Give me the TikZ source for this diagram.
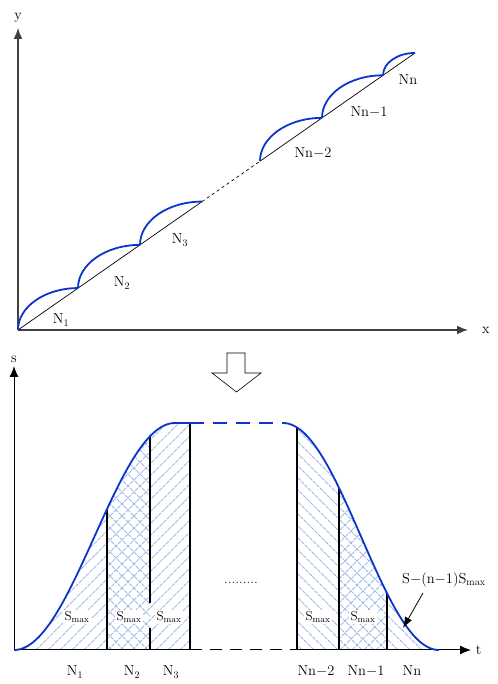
\documentclass[tikz,border=0pt]{standalone}
\usetikzlibrary{arrows.meta}
\definecolor{curveblue}{RGB}{12,52,204}
\definecolor{hatchblue}{RGB}{160,186,232}
\newcommand{\upy}[1]{34+113.5*(1-cos((#1-14)/161*180))}
\newcommand{\downy}[1]{261-113.5*(1-cos((#1-283)/156*180))}

\begin{document}
\begin{tikzpicture}[x=1pt, y=1pt, >={Latex[length=11pt,width=9pt]},
  font=\fontsize{14.5}{17}\selectfont,
  axis/.style={line width=1.6pt, black!75, ->},
  axisb/.style={line width=1pt, black, ->},
  arcb/.style={curveblue, line width=1.8pt},
  bar/.style={line width=1.1pt, black},
  hline/.style={hatchblue, line width=0.8pt, dash pattern=on 4pt off 1pt},
  smaxlab/.style={fill=white, inner sep=2pt, font=\fontsize{13}{15}\selectfont}]

\useasboundingbox (0,0) rectangle (497,684);

% Top panel: axes
\coordinate (O1) at (18,354);
\draw[axis] (O1) -- (18,656) node[above=1pt, black] (ylab) {y};
\draw[axis] (O1) -- (468,354) node[right=10pt, black] (xlab) {x};

% Points on the line
\coordinate (p1) at (78,395.9);
\coordinate (p2) at (140,439.1);
\coordinate (p3) at (202,482.4);
\coordinate (q0) at (260,522.8);
\coordinate (q1) at (322,566.1);
\coordinate (q2) at (383,608.7);
\coordinate (q3) at (415,631);

\draw[line width=0.7pt] (O1) -- (p3);
\draw[line width=0.7pt, dashed] (p3) -- (q0);
\draw[line width=0.7pt] (q0) -- (q3);

% Arcs
\draw[arcb] (O1) arc[start angle=180, end angle=90, x radius=60, y radius=41.9];
\draw[arcb] (p1) arc[start angle=180, end angle=90, x radius=62, y radius=43.2];
\draw[arcb] (p2) arc[start angle=180, end angle=90, x radius=62, y radius=43.3];
\draw[arcb] (q0) arc[start angle=180, end angle=90, x radius=62, y radius=43.3];
\draw[arcb] (q1) arc[start angle=180, end angle=90, x radius=61, y radius=42.6];
\draw[arcb] (q2) arc[start angle=180, end angle=90, x radius=32, y radius=22.3];

% Labels
\node (n1) at (61,364) {N$_1$};
\node (n2) at (122,401) {N$_2$};
\node (n3) at (180,444) {N$_3$};
\node (nn2) at (313,531) {Nn$-$2};
\node (nn1) at (369,572) {Nn$-$1};
\node (nn) at (408,604) {Nn};

% Down arrow
\draw[line width=0.6pt] (227,331) -- (245,331) -- (245,311) -- (261,311) -- (236.5,292)
  -- (212,311) -- (227,311) -- cycle;

% Bottom panel: hatching
\begin{scope}
  \clip (14,34) -- plot[domain=14:175, samples=60] (\x,{\upy{\x}}) -- (190,261) -- (190,34) -- cycle;
  \foreach \k in {-300,-288,...,200} \draw[hline] (\k,34) -- ++(240,240);
  \clip (107,34) rectangle (150,300);
  \foreach \k in {100,112,...,400} \draw[hline] (\k,34) -- ++(-240,240);
\end{scope}
\begin{scope}
  \clip (297,34) -- plot[domain=297:439, samples=60] (\x,{\downy{\x}}) -- cycle;
  \foreach \k in {290,302,...,700} \draw[hline] (\k,34) -- ++(-240,240);
  \clip (339,34) rectangle (387,300);
  \foreach \k in {100,112,...,400} \draw[hline] (\k,34) -- ++(240,240);
\end{scope}

% Bars
\draw[bar] (107,34) -- (107,{\upy{107}});
\draw[bar] (150,34) -- (150,56) (150,81) -- (150,{\upy{150}});
\draw[bar] (190,34) -- (190,261);
\draw[bar] (297,34) -- (297,{\downy{297}});
\draw[bar] (339,34) -- (339,{\downy{339}});
\draw[bar] (387,34) -- (387,{\downy{387}});

% Axes
\coordinate (O2) at (14,34);
\draw[axisb] (O2) -- (14,318) node[above=0pt] (slab) {s};
\draw[line width=1pt] (O2) -- (190,34);
\draw[line width=1pt, dash pattern=on 12pt off 8pt] (190,34) -- (297,34);
\draw[axisb] (297,34) -- (471,34) node[right=1pt] (tlab) {t};

% Curve
\draw[arcb] plot[domain=14:175, samples=60] (\x,{\upy{\x}}) -- (190,261);
\draw[arcb, dash pattern=on 14pt off 9pt] (190,261) -- (283,261);
\draw[arcb] plot[domain=283:439, samples=60] (\x,{\downy{\x}});

% Smax labels
\node[smaxlab] (s1) at (77,67) {S$_{\mathrm{max}}$};
\node[smaxlab] (s2) at (129,67) {S$_{\mathrm{max}}$};
\node[smaxlab] (s3) at (169,67) {S$_{\mathrm{max}}$};
\node[smaxlab] (s4) at (318,67) {S$_{\mathrm{max}}$};
\node[smaxlab] (s5) at (363,67) {S$_{\mathrm{max}}$};

\node[font=\fontsize{15}{17}\selectfont] (dots) at (241,101) {.........};

% Bottom labels
\node (b1) at (75,12) {N$_1$};
\node (b2) at (132,12) {N$_2$};
\node (b3) at (171,12) {N$_3$};
\node (b4) at (316,13) {Nn$-$2};
\node (b5) at (366,13) {Nn$-$1};
\node (b6) at (412,13) {Nn};

% Remainder
\node[anchor=west, inner sep=1pt] (rest) at (401,104) {S$-$(n$-$1)S$_{\mathrm{max}}$};
\coordinate (tip) at (403,56);
\draw[line width=0.8pt, -{Latex[length=11pt,width=8pt]}] (423,91) -- (tip);
\end{tikzpicture}
\end{document}
